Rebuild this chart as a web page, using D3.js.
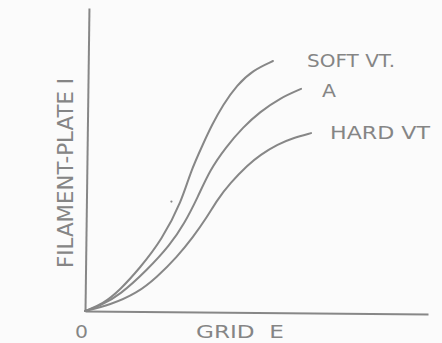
<!DOCTYPE html>
<html>
<head>
<meta charset="utf-8">
<script src="https://cdn.jsdelivr.net/npm/d3@7"></script>
<style>
  html, body { margin: 0; padding: 0; background: #fbfbfb; }
  svg { display: block; }
  text { font-family: "DejaVu Sans", sans-serif; fill: #858585; }
</style>
</head>
<body>
<svg id="chart" width="442" height="343"></svg>
<script>
// Series values: [grid E, filament-plate I] in arbitrary units (0..10)
const seriesNames = ["SOFT VT.", "A", "HARD VT"];
const softVT = [[0,0],[0.52,0.23],[1.02,0.69],[1.60,1.42],[2.24,2.34],[2.83,3.66],[3.06,4.55],[3.44,5.51],[3.70,6.14],[4.02,6.80],[4.43,7.46],[4.90,7.95],[5.48,8.25]];
const curveA = [[0,0],[0.44,0.17],[1.02,0.53],[1.81,1.35],[2.48,2.18],[2.89,2.87],[3.29,3.76],[3.64,4.65],[4.11,5.41],[4.61,6.07],[5.10,6.57],[5.69,7.03],[6.30,7.33]];
const hardVT = [[0,0],[0.73,0.20],[1.52,0.59],[2.10,1.12],[2.68,1.78],[3.15,2.44],[3.56,3.10],[3.85,3.66],[4.23,4.22],[4.75,4.82],[5.10,5.15],[5.63,5.51],[6.06,5.71],[6.59,5.87]];
const strayDot = [2.52, 3.61];
const xAxisLabel = "GRID  E";
const yAxisLabel = "FILAMENT-PLATE I";
const originLabel = "0";

const svg = d3.select("#chart");
const color = "#878787";

const x = d3.scaleLinear().domain([0, 10]).range([85, 428]);
const y = d3.scaleLinear().domain([0, 10]).range([311, 8]);

// Axes (no ticks, slightly hand-drawn tilt)
const xAx = svg.append("g")
  .attr("transform", `translate(0,${y(0)}) rotate(0.5, ${x(0)}, 0)`)
  .call(d3.axisBottom(x).tickValues([]).tickSizeOuter(0));
const yAx = svg.append("g")
  .attr("transform", `translate(${x(0)},0) rotate(0.75, 0, ${y(0)})`)
  .call(d3.axisLeft(y).tickValues([]).tickSizeOuter(0));
[xAx, yAx].forEach(g => g.select(".domain").attr("stroke", color).attr("stroke-width", 2));

const line = d3.line()
  .x(d => x(d[0]))
  .y(d => y(d[1]))
  .curve(d3.curveBasis);

const allSeries = [softVT, curveA, hardVT];
svg.selectAll("path.curve")
  .data(allSeries)
  .join("path")
  .attr("class", "curve")
  .attr("d", line)
  .attr("fill", "none")
  .attr("stroke", color)
  .attr("stroke-width", 2)
  .attr("stroke-linecap", "round");

// stray dot
svg.append("circle").attr("cx", x(strayDot[0])).attr("cy", y(strayDot[1])).attr("r", 1.1).attr("fill", color);

// Series labels
const labelPos = [
  { x: 307, y: 67, w: 88 },
  { x: 322, y: 97, w: 14 },
  { x: 330, y: 139, w: 100 }
];
svg.selectAll("text.series")
  .data(seriesNames)
  .join("text")
  .attr("class", "series")
  .attr("x", (d, i) => labelPos[i].x)
  .attr("y", (d, i) => labelPos[i].y)
  .attr("font-size", 17)
  .attr("textLength", (d, i) => labelPos[i].w)
  .attr("lengthAdjust", "spacingAndGlyphs")
  .text(d => d);

svg.append("text")
  .attr("x", 75).attr("y", 338)
  .attr("font-size", 18)
  .attr("textLength", 13).attr("lengthAdjust", "spacingAndGlyphs")
  .text(originLabel);

svg.append("text")
  .attr("x", 196).attr("y", 338)
  .attr("font-size", 18)
  .attr("textLength", 88).attr("lengthAdjust", "spacingAndGlyphs")
  .style("white-space", "pre")
  .text(xAxisLabel);

svg.append("text")
  .attr("transform", "translate(73,268) rotate(-90)")
  .attr("font-size", 21)
  .attr("textLength", 190).attr("lengthAdjust", "spacingAndGlyphs")
  .text(yAxisLabel);
</script>
</body>
</html>
